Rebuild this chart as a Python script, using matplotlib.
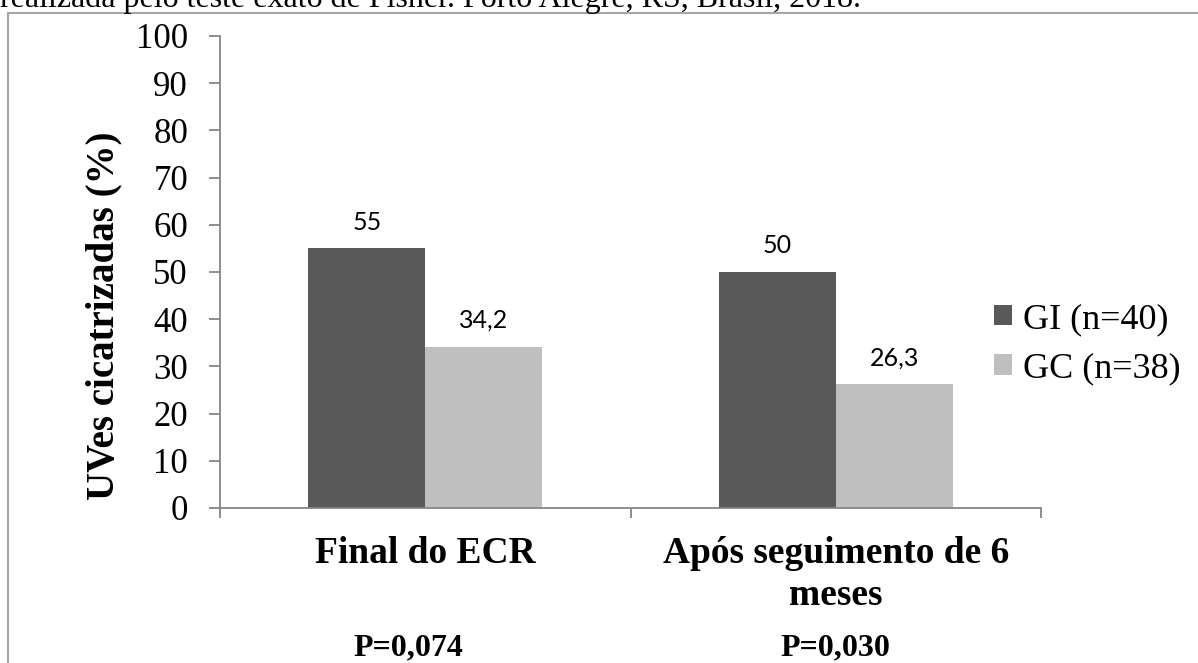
import matplotlib
matplotlib.use("Agg")
import matplotlib.pyplot as plt
from matplotlib.lines import Line2D
from matplotlib.transforms import blended_transform_factory

plt.rcParams['font.family'] = ['Liberation Serif', 'DejaVu Serif']

categories = ["Final do ECR", "Após seguimento de 6\nmeses"]
p_values = ["P=0,074", "P=0,030"]
series_names = ["GI (n=40)", "GC (n=38)"]
gi_values = [55, 50]
gc_values = [34.2, 26.3]
colors = ["#595959", "#BFBFBF"]

W, H = 1198, 663
fig = plt.figure(figsize=(W / 100, H / 100), dpi=100)
ax = fig.add_axes([220 / W, 1 - 508 / H, (1041 - 220) / W, (508 - 36) / H])

x = list(range(len(categories)))
w = 0.285
b1 = ax.bar([i - w / 2 for i in x], gi_values, w, color=colors[0], label=series_names[0])
b2 = ax.bar([i + w / 2 for i in x], gc_values, w, color=colors[1], label=series_names[1])

for bars, vals in ((b1, gi_values), (b2, gc_values)):
    for rect, v in zip(bars, vals):
        ax.annotate(f"{v:g}".replace(".", ","),
                    (rect.get_x() + rect.get_width() / 2, v),
                    textcoords="offset points", xytext=(0, 13.5),
                    ha="center", va="baseline", fontsize=18, family="Lato")

ax.set_xlim(-0.5, 1.5)
ax.set_ylim(0, 100)
ax.set_yticks(range(0, 101, 10))
ax.set_xticks([-0.5, 0.5, 1.5])
ax.set_xticklabels([])
for s in ("top", "right"):
    ax.spines[s].set_visible(False)
for s in ("left", "bottom"):
    ax.spines[s].set_color("#868686")
    ax.spines[s].set_linewidth(1.3)
ax.tick_params(axis="y", direction="out", length=8, width=1.3, color="#868686",
               labelsize=25, pad=15)
ax.tick_params(axis="x", direction="out", length=7.5, width=1.3, color="#868686")

# category labels (one text per line) and p-values under the axis
tr = blended_transform_factory(ax.transData, fig.transFigure)
for i, (cat, p) in enumerate(zip(categories, p_values)):
    for k, line in enumerate(cat.split("\n")):
        ax.text(i, 1 - (563 + 42 * k) / H, line, transform=tr, ha="center",
                va="baseline", fontsize=27, fontweight="bold")
    ax.text(i - (0.04 if i == 0 else 0), 1 - 655 / H, p, transform=tr, ha="center",
            va="baseline", fontsize=23, fontweight="bold")

fig.text(104 / W, 1 - 316 / H, "UVes cicatrizadas (%)", rotation=90, ha="center",
         va="center", fontsize=28, fontweight="bold")

ax.legend(loc="center left", bbox_to_anchor=(994 / W, 1 - 344 / H),
          bbox_transform=fig.transFigure, frameon=False, fontsize=26,
          handlelength=0.5, handleheight=0.5, handletextpad=0.3,
          labelspacing=0.45, borderpad=0, borderaxespad=0)

# clipped caption line and surrounding frame
fig.text(0, 1 - 7 / H, "realizada pelo teste exato de Fisher. Porto Alegre, RS, Brasil, 2018.",
         ha="left", va="baseline", fontsize=23)
fig.add_artist(Line2D([8 / W, 8 / W], [0, 1 - 13 / H], transform=fig.transFigure,
                      color="#A6A6A6", lw=1.5))
fig.add_artist(Line2D([8 / W, 1], [1 - 13 / H, 1 - 13 / H], transform=fig.transFigure,
                      color="#A6A6A6", lw=1.5))

fig.savefig("out.png", dpi=100)
